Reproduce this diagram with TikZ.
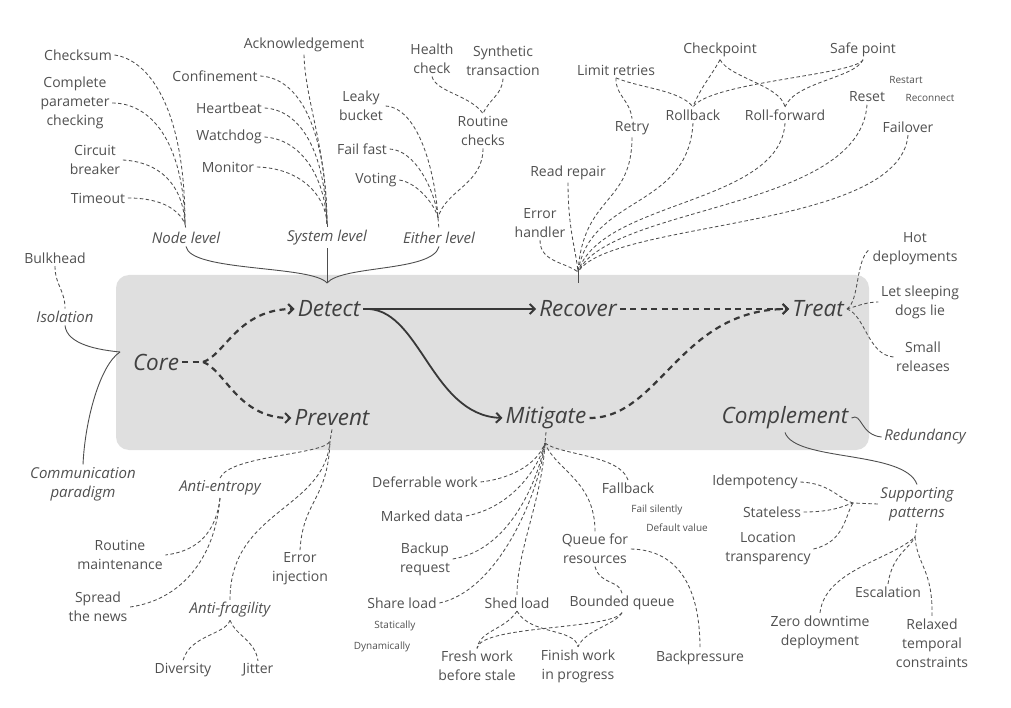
\documentclass[tikz,border=0pt]{standalone}
\usepackage{fontspec}
\setmainfont{Open Sans}
\usetikzlibrary{arrows.meta}
\definecolor{txt}{HTML}{505050}
\definecolor{maintxt}{HTML}{404040}
\definecolor{ln}{HTML}{4E4E4E}
\definecolor{arr}{HTML}{383838}
\definecolor{panel}{HTML}{DFDFDF}
\begin{document}
\begin{tikzpicture}[x=1pt,y=-1pt,
  lbl/.style={font=\fontsize{14}{19}\selectfont, text=txt, align=center, inner sep=2.5pt},
  itl/.style={lbl, font=\fontsize{15}{19}\selectfont\itshape},
  sml/.style={font=\fontsize{10}{11}\selectfont, text=txt, inner sep=1pt},
  big/.style={font=\fontsize{22.5}{26}\selectfont\itshape, text=maintxt, inner sep=3pt},
  dl/.style={draw=ln, line width=0.85pt, dash pattern=on 3.5pt off 2.5pt},
  sl/.style={draw=ln, line width=0.9pt},
  bigdash/.style={draw=arr, line width=2.2pt, dash pattern=on 6pt off 4.5pt},
  bigsolid/.style={draw=arr, line width=1.8pt},
  tip/.style={-{Straight Barb[length=5pt,width=10pt,line width=2pt]}}
]
\useasboundingbox (0,0) rectangle (1011,708);

% central panel
\fill[panel, rounded corners=13pt] (116,275) rectangle (869,450);

% the six stages
\node[big] (core) at (156,362) {Core};
\node[big] (detect) at (329,309) {Detect};
\node[big] (prevent) at (332,418) {Prevent};
\node[big] (recover) at (578,309) {Recover};
\node[big] (mitigate) at (546,418) {Mitigate};
\node[big] (treat) at (818,309) {Treat};
\node[big] (complement) at (785,418) {Complement};

% junction points
\coordinate (csplit) at (203,362);
\coordinate (nlp) at (185,224);
\coordinate (slp) at (327,224);
\coordinate (elp) at (438,218);
\coordinate (dtp) at (327,283);
\coordinate (rfp) at (578,272);
\coordinate (rfe) at (578,283);
\coordinate (mfp) at (545,443);
\coordinate (pfp) at (330,441);
\coordinate (sfl) at (853,503);
\coordinate (sfb) at (915,537);
\coordinate (clp) at (120,352);

% stage flow
\draw[bigdash] (core.east) -- (csplit);
\draw[bigdash,tip] (csplit) .. controls (225,355) and (238,309) .. (detect.west);
\draw[bigdash,tip] (csplit) .. controls (225,370) and (238,418) .. (prevent.west);
\draw[bigsolid,tip] (detect.east) -- (recover.west);
\draw[bigsolid,tip] (detect.east) .. controls (420,305) and (430,415) .. (mitigate.west);
\draw[bigdash,tip] (recover.east) -- (treat.west);
\draw[bigdash,tip] (mitigate.east) .. controls (660,418) and (680,309) .. (treat.west);

% ---- Detect: levels
\node[itl] (nodelevel) at (186,238) {Node level};
\node[itl] (syslevel) at (327,238) {System level};
\node[itl] (either) at (439,238) {Either level};
\draw[sl] (nodelevel.south) .. controls (190,272) and (312,265) .. (dtp);
\draw[sl] (either.south) .. controls (433,272) and (342,265) .. (dtp);
\draw[sl] (syslevel.south) -- (dtp);

\node[lbl] (chk) at (78,55) {Checksum};
\node[lbl] (cpc) at (75,103) {Complete\\parameter\\checking};
\node[lbl] (cb) at (95,160) {Circuit\\breaker};
\node[lbl] (to) at (98,198) {Timeout};
\draw[dl] (chk.east) .. controls (150,60) and (185,110) .. (nlp);
\draw[dl] (cpc.east) .. controls (150,103) and (183,140) .. (nlp);
\draw[dl] (cb.east) .. controls (160,162) and (183,185) .. (nlp);
\draw[dl] (to.east) .. controls (165,198) and (180,212) .. (nlp);
\draw[dl] (nlp) -- (nodelevel.north);

\node[lbl] (ack) at (304,45) {Acknowledgement};
\node[lbl] (conf) at (215,76) {Confinement};
\node[lbl] (hb) at (229,108) {Heartbeat};
\node[lbl] (wd) at (229,137) {Watchdog};
\node[lbl] (mon) at (228,167) {Monitor};
\draw[dl] (ack.south) .. controls (305,100) and (327,150) .. (slp);
\draw[dl] (conf.east) .. controls (300,78) and (326,130) .. (slp);
\draw[dl] (hb.east) .. controls (300,110) and (325,150) .. (slp);
\draw[dl] (wd.east) .. controls (300,139) and (325,175) .. (slp);
\draw[dl] (mon.east) .. controls (300,168) and (326,195) .. (slp);
\draw[dl] (slp) -- (syslevel.north);

\node[lbl] (lb) at (361,106) {Leaky\\bucket};
\node[lbl] (ff) at (362,149) {Fail fast};
\node[lbl] (vot) at (376,180) {Voting};
\node[lbl] (rc) at (483,131) {Routine\\checks};
\node[lbl] (hc) at (432,59) {Health\\check};
\node[lbl] (st) at (503,61) {Synthetic\\transaction};
\draw[dl] (lb.east) .. controls (418,108) and (435,170) .. (elp);
\draw[dl] (ff.east) .. controls (415,150) and (435,190) .. (elp);
\draw[dl] (vot.east) .. controls (418,183) and (435,205) .. (elp);
\draw[dl] (rc.south) .. controls (483,185) and (445,190) .. (elp);
\draw[dl] (elp) -- (either.north);
\draw[dl] (hc.south) .. controls (436,92) and (470,95) .. (rc.north);
\draw[dl] (st.south) .. controls (502,95) and (490,98) .. (rc.north);

% ---- Recover
\node[lbl] (eh) at (540,223) {Error\\handler};
\node[lbl] (rr) at (568,173) {Read repair};
\node[lbl] (retry) at (632,128) {Retry};
\node[lbl] (lr) at (616,70) {Limit retries};
\node[lbl] (rb) at (693,115) {Rollback};
\node[lbl] (rf) at (785,115) {Roll-forward};
\node[lbl] (cp) at (720,50) {Checkpoint};
\node[lbl] (sp) at (863,50) {Safe point};
\node[lbl] (reset) at (867,97) {Reset};
\node[sml] (restart) at (906,80) {Restart};
\node[sml] (reconnect) at (930,98) {Reconnect};
\node[lbl] (fo) at (908,127) {Failover};
\draw[dl] (eh.south) .. controls (540,262) and (565,262) .. (rfp);
\draw[dl] (rr.south) .. controls (568,230) and (576,250) .. (rfp);
\draw[dl] (retry.south) .. controls (632,205) and (583,195) .. (rfp);
\draw[dl] (rb.south) .. controls (688,210) and (590,195) .. (rfp);
\draw[dl] (rf.south) .. controls (780,205) and (600,200) .. (rfp);
\draw[dl] (reset.south) .. controls (860,210) and (610,205) .. (rfp);
\draw[dl] (fo.south) .. controls (900,230) and (610,220) .. (rfp);
\draw[sl] (rfp) -- (rfe);
\draw[dl] (lr.south) .. controls (615,95) and (630,100) .. (retry.north);
\draw[dl] (lr.south) .. controls (640,88) and (680,90) .. (rb.north);
\draw[dl] (cp.south) .. controls (712,75) and (700,88) .. (rb.north);
\draw[dl] (cp.south) .. controls (730,78) and (780,85) .. (rf.north);
\draw[dl] (sp.south) .. controls (855,78) and (795,82) .. (rf.north);
\draw[dl] (sp.south) .. controls (855,75) and (710,82) .. (rb.north);

% ---- Treat
\node[lbl] (hot) at (915,249) {Hot\\deployments};
\node[lbl] (lsd) at (920,302) {Let sleeping\\dogs lie};
\node[lbl] (sr) at (923,357) {Small\\releases};
\draw[dl] (treat.east) .. controls (860,300) and (855,260) .. (hot.west);
\draw[dl] (treat.east) .. controls (860,305) and (868,302) .. (lsd.west);
\draw[dl] (treat.east) .. controls (865,315) and (868,355) .. (sr.west);

% ---- Complement
\node[itl] (red) at (925,437) {Redundancy};
\node[itl] (supp) at (917,504) {Supporting\\patterns};
\draw[sl] (complement.east) .. controls (862,412) and (860,435) .. (red.west);
\draw[sl] (complement.south) .. controls (795,462) and (905,450) .. (supp.north);

\node[lbl] (idem) at (755,482) {Idempotency};
\node[lbl] (stless) at (772,512) {Stateless};
\node[lbl] (loc) at (768,549) {Location\\transparency};
\node[lbl] (esc) at (888,592) {Escalation};
\node[lbl] (zdd) at (820,632) {Zero downtime\\deployment};
\node[lbl] (rtc) at (932,643) {Relaxed\\temporal\\constraints};
\draw[dl] (supp.west) -- (sfl);
\draw[dl] (idem.east) .. controls (830,483) and (840,500) .. (sfl);
\draw[dl] (stless.east) .. controls (835,512) and (845,505) .. (sfl);
\draw[dl] (loc.east) .. controls (845,542) and (845,515) .. (sfl);
\draw[dl] (supp.south) -- (sfb);
\draw[dl] (zdd.north) .. controls (825,570) and (890,560) .. (sfb);
\draw[dl] (esc.north) .. controls (892,555) and (910,548) .. (sfb);
\draw[dl] (rtc.north) .. controls (933,570) and (917,565) .. (sfb);

% ---- Mitigate
\node[lbl] (dw) at (425,482) {Deferrable work};
\node[lbl] (md) at (422,516) {Marked data};
\node[lbl] (br) at (425,559) {Backup\\request};
\node[lbl] (shl) at (402,603) {Share load};
\node[sml] (stat) at (395,626) {Statically};
\node[sml] (dyn) at (382,647) {Dynamically};
\node[lbl] (shed) at (517,603) {Shed load};
\node[lbl] (bq) at (622,603) {Bounded queue};
\node[lbl] (qr) at (595,549) {Queue for\\resources};
\node[lbl] (fb) at (628,488) {Fallback};
\node[sml] (fs) at (657,510) {Fail silently};
\node[sml] (dv) at (677,528) {Default value};
\node[lbl] (bp) at (700,658) {Backpressure};
\node[lbl] (fw) at (477,666) {Fresh work\\before stale};
\node[lbl] (fwip) at (578,666) {Finish work\\in progress};
\draw[dl] (mitigate.south) -- (mfp);
\draw[dl] (dw.east) .. controls (515,478) and (538,462) .. (mfp);
\draw[dl] (md.east) .. controls (510,508) and (538,470) .. (mfp);
\draw[dl] (br.east) .. controls (510,550) and (538,480) .. (mfp);
\draw[dl] (shl.east) .. controls (500,590) and (540,490) .. (mfp);
\draw[dl] (shed.north) .. controls (517,550) and (542,500) .. (mfp);
\draw[dl] (qr.north) .. controls (595,480) and (555,470) .. (mfp);
\draw[dl] (fb.north) .. controls (620,455) and (560,455) .. (mfp);
\draw[dl] (qr.south) .. controls (600,585) and (620,580) .. (bq.north);
\draw[dl] (qr.east) .. controls (680,550) and (700,590) .. (bp.north);
\draw[dl] (shed.south) .. controls (505,630) and (480,630) .. (fw.north);
\draw[dl] (shed.south) .. controls (530,635) and (575,628) .. (fwip.north);
\draw[dl] (bq.south) .. controls (610,630) and (480,625) .. (fw.north);
\draw[dl] (bq.south) .. controls (615,625) and (585,630) .. (fwip.north);

% ---- Prevent
\node[itl] (ae) at (220,488) {Anti-entropy};
\node[lbl] (rm) at (120,555) {Routine\\maintenance};
\node[lbl] (stn) at (98,607) {Spread\\the news};
\node[itl] (af) at (230,610) {Anti-fragility};
\node[lbl] (div) at (183,670) {Diversity};
\node[lbl] (jit) at (258,670) {Jitter};
\node[lbl] (ei) at (300,569) {Error\\injection};
\draw[dl] (prevent.south) -- (pfp);
\draw[dl] (ae.north) .. controls (230,455) and (325,455) .. (pfp);
\draw[dl] (af.north) .. controls (230,510) and (325,510) .. (pfp);
\draw[dl] (ei.north) .. controls (303,500) and (328,500) .. (pfp);
\draw[dl] (ae.south) .. controls (215,540) and (190,552) .. (rm.east);
\draw[dl] (ae.south) .. controls (215,560) and (180,600) .. (stn.east);
\draw[dl] (af.south) .. controls (225,635) and (190,635) .. (div.north);
\draw[dl] (af.south) .. controls (235,635) and (255,640) .. (jit.north);

% ---- Core
\node[lbl] (bulk) at (55,258) {Bulkhead};
\node[itl] (iso) at (65,317) {Isolation};
\node[itl] (comm) at (83,484) {Communication\\paradigm};
\draw[dl] (bulk.south) .. controls (55,285) and (65,290) .. (iso.north);
\draw[sl] (iso.south) .. controls (67,345) and (100,350) .. (clp);
\draw[sl] (clp) .. controls (100,365) and (85,420) .. (comm.north);
\end{tikzpicture}
\end{document}
